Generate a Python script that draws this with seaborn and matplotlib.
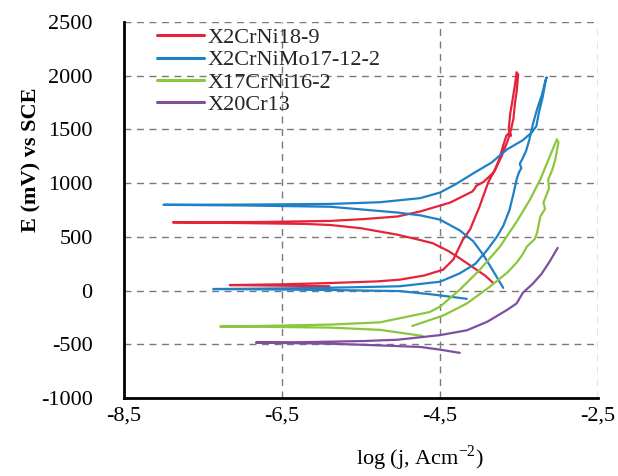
import pandas as pd
import seaborn as sns
import matplotlib.pyplot as plt

# polarization curves, log(j) vs E in scan order
alloys = ["X2CrNi18-9", "X2CrNiMo17-12-2", "X17CrNi16-2", "X20Cr13"]
colors = ["#e5233a", "#1f80c6", "#8cc63f", "#7d4f9e"]

red_logj = [-5.9, -6.6, -7.16,
            -6.5, -5.89, -5.3, -5.01, -4.7, -4.46, -4.33, -4.21, -4.12, -4.0, -3.89,
            -3.80, -3.75, -3.70, -3.66, -3.62, -3.60, -3.63, -3.61, -3.58, -3.55, -3.53,
            -3.51, -3.53, -3.55, -3.57, -3.60, -3.64, -3.72, -3.82, -3.95, -4.04, -4.06,
            -4.09, -4.37, -4.75, -5.04, -5.47, -5.89, -6.8, -7.88,
            -7.0, -6.2, -5.89, -5.5, -5.04, -4.75, -4.59, -4.40, -4.28, -4.09, -3.93, -3.83]
red_E = [40, 46, 51,
         58, 70, 85, 101, 140, 194, 290, 474, 567, 780, 1006,
         1130, 1220, 1350, 1440, 1472, 1440, 1500, 1650, 1780, 1920, 2032,
         2010, 1850, 1750, 1600, 1500, 1400, 1250, 1100, 1010, 975, 950,
         922, 819, 736, 689, 665, 648, 638, 635,
         628, 620, 610, 580, 520, 470, 440, 370, 315, 220, 140, 73]

blue_logj = [-4.16, -4.59, -5.01, -5.9, -6.8, -7.37,
             -6.5, -5.9, -5.01, -4.50, -4.25, -4.05, -3.90, -3.78, -3.70, -3.62, -3.57,
             -3.53, -3.50, -3.47, -3.49, -3.46, -3.41, -3.37, -3.32, -3.27, -3.21, -3.17, -3.15,
             -3.16, -3.20, -3.25, -3.28, -3.34, -3.45, -3.65, -3.85, -4.08, -4.30, -4.50,
             -4.75, -5.26, -5.89, -7.0, -8.0,
             -7.0, -5.89, -5.04, -4.75, -4.50, -4.25, -4.08, -3.95, -3.85, -3.76, -3.70]
blue_E = [-77, -37, -5, 5, 11, 14,
          20, 26, 40, 82, 160, 250, 380, 500, 600, 750, 900,
          1034, 1100, 1140, 1180, 1220, 1300, 1400, 1560, 1690, 1820, 1940, 1985,
          1960, 1800, 1650, 1530, 1470, 1400, 1314, 1190, 1090, 990, 912,
          860, 822, 806, 800, 798,
          792, 780, 726, 700, 660, 560, 460, 330, 210, 100, 25]

green_logj = [-4.72, -5.26, -5.89, -6.8, -7.28,
              -6.8, -5.89, -5.26, -4.63, -4.50, -4.25, -4.00, -3.74, -3.53, -3.36, -3.23,
              -3.11, -3.02,
              -3.00, -3.04, -3.08, -3.13, -3.12, -3.19, -3.17, -3.23, -3.27, -3.30, -3.40,
              -3.46, -3.53, -3.65, -3.87, -4.16, -4.45, -4.85]
green_E = [-422, -366, -345, -337, -335,
           -330, -317, -296, -200, -150, 7, 190, 409, 640, 847, 1034,
           1248, 1407,
           1380, 1220, 1120, 1034, 950, 819, 760, 689, 539, 480, 409,
           330, 259, 166, 35, -120, -230, -330]

purple_logj = [-4.25, -4.50, -4.75, -5.47, -5.89, -6.5, -6.83,
               -6.2, -5.47, -5.04, -4.50, -4.16, -3.90, -3.65, -3.53, -3.45, -3.33,
               -3.22, -3.12, -3.01]
purple_E = [-580, -550, -525, -505, -495, -488, -484,
            -480, -470, -458, -415, -370, -290, -180, -120, -20, 60,
            150, 260, 397]

xticks = [-8.5, -6.5, -4.5, -2.5]
xtick_labels = ["-8,5", "-6,5", "-4,5", "-2,5"]
yticks = [-1000, -500, 0, 500, 1000, 1500, 2000, 2500]

frames = []
for name, lj, e in zip(alloys, [red_logj, blue_logj, green_logj, purple_logj],
                       [red_E, blue_E, green_E, purple_E]):
    frames.append(pd.DataFrame({"logj": lj, "E": e, "alloy": name}))
df = pd.concat(frames, ignore_index=True)

sns.set_theme(style="white")
plt.rcParams["font.family"] = ["Liberation Serif", "DejaVu Serif"]
plt.rcParams["axes.unicode_minus"] = False
plt.rcParams["mathtext.fontset"] = "custom"
plt.rcParams["mathtext.rm"] = "Liberation Serif"

fig = plt.figure(figsize=(6.18, 4.76), dpi=100)
ax = fig.add_axes([0.2006, 0.1639, 0.767, 0.790])

sns.lineplot(data=df, x="logj", y="E", hue="alloy", hue_order=alloys,
             palette=dict(zip(alloys, colors)), sort=False, estimator=None,
             lw=1.6, ax=ax)

ax.set_xlim(-8.5, -2.5)
ax.set_ylim(-1000, 2500)
ax.set_xticks(xticks)
ax.set_xticklabels(xtick_labels)
ax.set_yticks(yticks)
ax.grid(True, linestyle=(0, (5, 4)), color="#7a7a7a", lw=1)

for s in ["top", "right"]:
    ax.spines[s].set_visible(False)
for s in ["left", "bottom"]:
    ax.spines[s].set_color("black")
    ax.spines[s].set_linewidth(2)

ax.tick_params(axis="both", direction="inout", length=9, width=2, color="black",
               labelsize=16, labelcolor="black")
ax.tick_params(axis="y", pad=18)
ax.tick_params(axis="x", pad=2)

ax.set_ylabel("E (mV) vs SCE", fontsize=16, fontweight="bold", color="black")
ax.yaxis.set_label_coords(-0.175, 0.633)
ax.set_xlabel("log (j, Acm$^{-2}$)", fontsize=16, color="black")
ax.xaxis.set_label_coords(0.625, -0.12)

handles, labels = ax.get_legend_handles_labels()
leg = ax.legend(handles, labels, loc="upper left", bbox_to_anchor=(0.07, 0.985),
                frameon=False, fontsize=16, handlelength=2.1, handletextpad=0.15,
                labelspacing=0.08, borderpad=0, borderaxespad=0)
for line in leg.get_lines():
    line.set_linewidth(2.2)

plt.savefig("out.png", dpi=100)
